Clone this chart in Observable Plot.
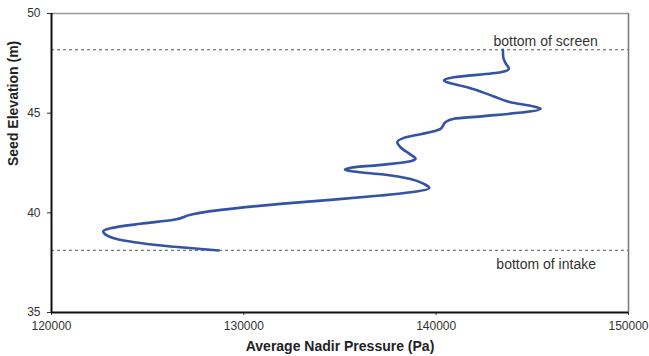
<!DOCTYPE html>
<html>
<head>
<meta charset="utf-8">
<script src="https://cdn.jsdelivr.net/npm/d3@7"></script>
<script src="https://cdn.jsdelivr.net/npm/@observablehq/plot@0.6"></script>
<style>
  html, body { margin: 0; padding: 0; background: #fff; }
  #chart svg { display: block; }
</style>
</head>
<body>
<div id="chart"></div>
<script>
// Average nadir pressure (Pa) vs seed elevation (m), traced from bottom of intake upward
const pressure = [128700, 126708, 124976, 123760, 122896, 122688, 123068, 124628, 126360, 127228,
  128096, 129308, 131908, 134508, 137108, 138668, 139640, 139360, 138668, 137280,
  135720, 135252, 135548, 137280, 138668, 138928, 138668, 138148, 137976, 138320,
  139880, 140228, 140488, 140920, 142480, 145428, 145080, 143868, 143000, 141616,
  140576, 140400, 140920, 143348, 143780, 143608, 143488, 143468];
const elevation = [38.11, 38.27, 38.44, 38.61, 38.86, 39.08, 39.23, 39.45, 39.65, 39.90,
  40.06, 40.20, 40.45, 40.65, 40.87, 41.03, 41.25, 41.45, 41.70, 41.92,
  42.07, 42.16, 42.26, 42.42, 42.59, 42.71, 42.92, 43.29, 43.54, 43.76,
  44.09, 44.21, 44.55, 44.72, 44.85, 45.22, 45.33, 45.55, 45.84, 46.30,
  46.55, 46.64, 46.80, 47.05, 47.23, 47.51, 47.81, 48.18];

const xTicks = [120000, 130000, 140000, 150000];
const yTicks = [35, 40, 45, 50];
const refLevels = [38.12, 48.18];
const annotations = [
  {label: "bottom of screen", p: 145690, e: 48.58},
  {label: "bottom of intake", p: 145720, e: 37.42}
];
const xLabel = "Average Nadir Pressure (Pa)";
const yLabel = "Seed Elevation (m)";

const data = pressure.map((p, i) => ({p, e: elevation[i]}));

const chart = Plot.plot({
  width: 649,
  height: 356,
  marginLeft: 51,
  marginRight: 21,
  marginTop: 13,
  marginBottom: 44,
  style: {fontFamily: "'Liberation Sans', Arial, sans-serif", fontSize: "12px", color: "#333", background: "#fff"},
  x: {domain: [120000, 150000]},
  y: {domain: [35, 50]},
  marks: [
    Plot.ruleY([50], {stroke: "#999", strokeWidth: 1.5}),
    Plot.ruleX([150000], {stroke: "#777", strokeWidth: 1.5}),
    Plot.ruleY(refLevels, {stroke: "#555", strokeWidth: 1, strokeDasharray: "3,3"}),
    Plot.line(data, {x: "p", y: "e", curve: "monotone-y", stroke: "#3354a4", strokeWidth: 2.6}),
    Plot.text(annotations, {x: "p", y: "e", text: "label", fontSize: 14, fill: "#333", lineAnchor: "middle"}),
    Plot.axisX({ticks: xTicks, tickFormat: d => String(d), tickSize: 3, tickPadding: 6, label: null, fontSize: 12}),
    Plot.axisY({ticks: yTicks, tickSize: 4, tickPadding: 7, label: null, fontSize: 12}),
    Plot.ruleX([120000], {stroke: "#111", strokeWidth: 2}),
    Plot.ruleY([35], {stroke: "#111", strokeWidth: 2}),
    Plot.text([xLabel], {frameAnchor: "bottom", dy: 34, text: d => d, fontWeight: "bold", fontSize: 14, fill: "#222", lineAnchor: "middle"}),
    Plot.text([yLabel], {frameAnchor: "left", dx: -38, dy: 3, rotate: -90, text: d => d, fontWeight: "bold", fontSize: 14, fill: "#222", lineAnchor: "middle"})
  ]
});
document.getElementById("chart").appendChild(chart);
</script>
</body>
</html>
